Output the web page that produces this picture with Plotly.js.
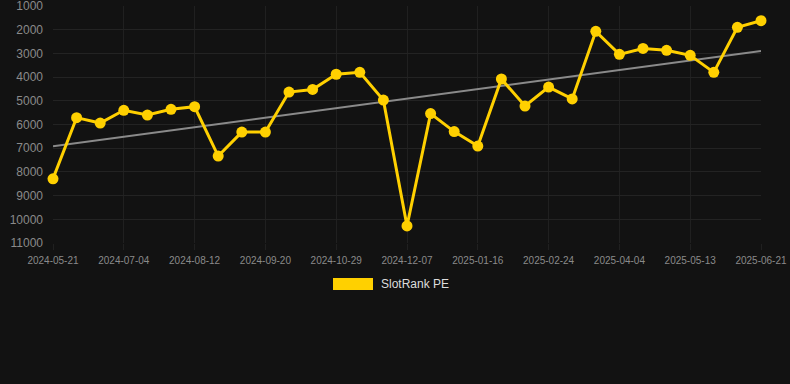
<!DOCTYPE html>
<html>
<head>
<meta charset="utf-8">
<script src="https://cdn.plot.ly/plotly-3.0.1.min.js"></script>
<style>
html,body{margin:0;padding:0;background:#121212;}
#chart{width:790px;height:384px;}
</style>
</head>
<body>
<div id="chart"></div>
<script>
const dates = ["2024-05-21","2024-06-05","2024-06-19","2024-07-04","2024-07-17","2024-07-30","2024-08-12","2024-08-25","2024-09-07","2024-09-20","2024-10-03","2024-10-16","2024-10-29","2024-11-11","2024-11-24","2024-12-07","2024-12-20","2025-01-03","2025-01-16","2025-01-29","2025-02-11","2025-02-24","2025-03-09","2025-03-22","2025-04-04","2025-04-17","2025-04-30","2025-05-13","2025-05-26","2025-06-08","2025-06-21"];
const rankValues = [8290,5710,5940,5400,5600,5360,5250,7330,6320,6320,4630,4520,3880,3800,4970,10280,5540,6300,6910,4080,5220,4420,4920,2070,3040,2790,2870,3080,3800,1900,1620];
const tickLabels = ["2024-05-21","2024-07-04","2024-08-12","2024-09-20","2024-10-29","2024-12-07","2025-01-16","2025-02-24","2025-04-04","2025-05-13","2025-06-21"];
const yTicks = [1000,2000,3000,4000,5000,6000,7000,8000,9000,10000,11000];
const seriesName = "SlotRank PE";

// linear trend (least squares) from the data
const n = rankValues.length;
const mx = (n - 1) / 2;
const my = rankValues.reduce((a, b) => a + b, 0) / n;
let sxy = 0, sxx = 0;
rankValues.forEach((v, i) => { sxy += (i - mx) * (v - my); sxx += (i - mx) * (i - mx); });
const slope = sxy / sxx;
const trend = rankValues.map((v, i) => my + slope * (i - mx));

const gold = "#FFD000";
const traces = [
  {x: dates, y: trend, type: "scatter", mode: "lines", line: {color: "#8a8a8a", width: 2}, hoverinfo: "skip", showlegend: false},
  {x: dates, y: rankValues, type: "scatter", mode: "lines+markers", name: seriesName,
   line: {color: gold, width: 3}, marker: {color: gold, size: 11}, cliponaxis: false, showlegend: false}
];
const layout = {
  width: 790, height: 384,
  paper_bgcolor: "#121212", plot_bgcolor: "#121212",
  margin: {l: 53, r: 29, t: 6, b: 141},
  showlegend: false,
  font: {family: "Arial, 'Liberation Sans', sans-serif", color: "#888"},
  xaxis: {type: "category", range: [0, n - 1], tickvals: tickLabels, ticktext: tickLabels,
    showgrid: true, gridcolor: "#202020", gridwidth: 1, zeroline: false, showline: false,
    ticks: "outside", ticklen: 6, tickcolor: "#202020", ticklabelstandoff: 2,
    tickfont: {size: 10, color: "#8a8a8a"}, tickangle: 0},
  yaxis: {range: [11000, 999.5], tickvals: yTicks, ticktext: yTicks.map(String),
    showgrid: true, gridcolor: "#232323", gridwidth: 1, zeroline: false, showline: false,
    ticks: "", ticklen: 0, ticklabelstandoff: 9, ticklabeloverflow: "allow",
    tickfont: {size: 12, color: "#8a8a8a"}, automargin: false},
  shapes: [{type: "rect", xref: "paper", yref: "paper", x0: 280/708, x1: 320/708,
    y0: -(290-243)/237, y1: -(278-243)/237, fillcolor: gold, line: {width: 0}}],
  annotations: [{xref: "paper", yref: "paper", x: 326/708, y: -(284-243)/237, xanchor: "left", yanchor: "middle",
    text: seriesName, showarrow: false, font: {size: 12, color: "#dddddd"}}]
};
Plotly.newPlot("chart", traces, layout, {staticPlot: true, displayModeBar: false});
</script>
</body>
</html>
